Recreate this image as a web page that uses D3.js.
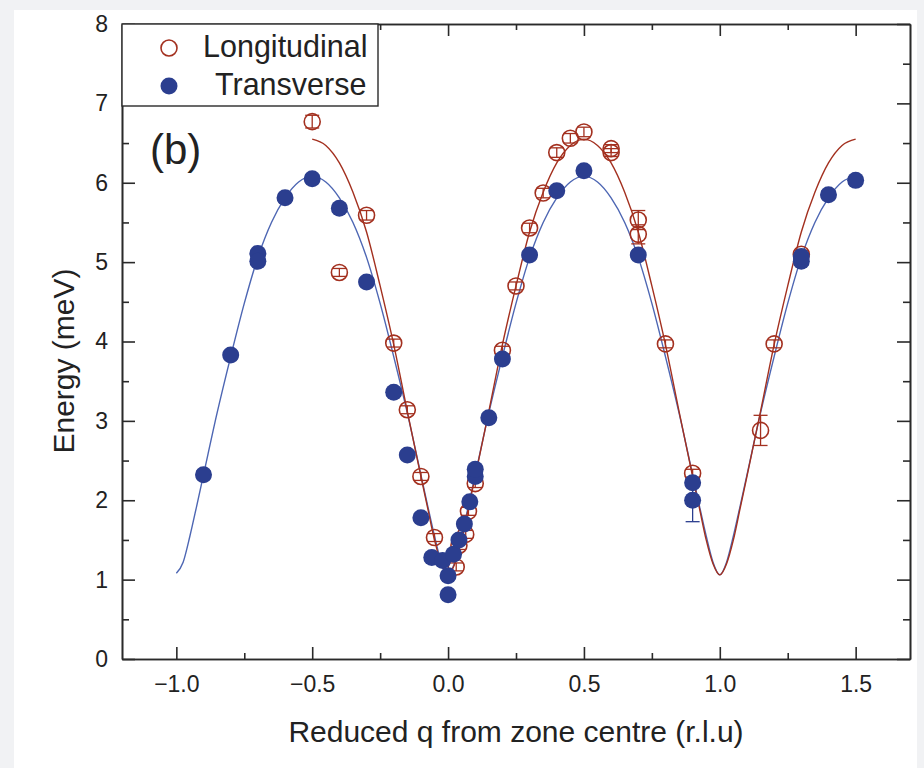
<!DOCTYPE html>
<html>
<head>
<meta charset="utf-8">
<script src="https://cdn.jsdelivr.net/npm/d3@7"></script>
<style>
  body { margin: 0; background: #f1f2f4; }
  svg { display: block; }
  text { font-family: "Liberation Sans", Arial, sans-serif; fill: #222; }
</style>
</head>
<body>
<svg id="chart" width="924" height="768"></svg>
<script>
// measured points, longitudinal (red open circles)
var longQ   = [-0.5, -0.4, -0.3, -0.2, -0.15, -0.1, -0.05, 0.03, 0.04, 0.065, 0.075, 0.1, 0.2, 0.25, 0.3, 0.35, 0.4, 0.45, 0.5, 0.6, 0.6, 0.7, 0.7, 0.8, 0.9, 1.15, 1.2, 1.3];
var longE   = [6.77, 4.87, 5.59, 3.98, 3.14, 2.30, 1.53, 1.16, 1.43, 1.57, 1.86, 2.21, 3.89, 4.70, 5.43, 5.87, 6.38, 6.56, 6.64, 6.38, 6.43, 5.53, 5.35, 3.97, 2.34, 2.88, 3.97, 5.10];
var longErr = [0.08, 0.05, 0.06, 0.05, 0.05, 0.05, 0.05, 0.05, 0.05, 0.05, 0.05, 0.05, 0.05, 0.05, 0.06, 0.06, 0.06, 0.06, 0.06, 0.05, 0.05, 0.12, 0.12, 0.05, 0.05, 0.19, 0.05, 0.05];

// measured points, transverse (blue filled circles)
var transQ   = [-0.9, -0.8, -0.7, -0.7, -0.6, -0.5, -0.4, -0.3, -0.2, -0.15, -0.1, -0.06, -0.02, 0.0, 0.0, 0.02, 0.04, 0.06, 0.08, 0.1, 0.1, 0.15, 0.2, 0.3, 0.4, 0.5, 0.7, 0.9, 0.9, 1.3, 1.3, 1.4, 1.5];
var transE   = [2.32, 3.83, 5.11, 5.01, 5.81, 6.05, 5.68, 4.75, 3.36, 2.57, 1.78, 1.28, 1.24, 1.05, 0.81, 1.32, 1.50, 1.70, 1.98, 2.30, 2.39, 3.04, 3.78, 5.09, 5.90, 6.15, 5.09, 2.22, 2.00, 5.01, 5.07, 5.85, 6.03];
var transErr = [0.05, 0.05, 0.05, 0.05, 0.05, 0.05, 0.05, 0.05, 0.05, 0.05, 0.05, 0.05, 0.05, 0.05, 0.05, 0.05, 0.05, 0.05, 0.05, 0.05, 0.05, 0.05, 0.05, 0.05, 0.05, 0.05, 0.05, 0.05, 0.27, 0.05, 0.05, 0.05, 0.05];

// fitted dispersion curves
var fitTQ = [-1.0, -0.975, -0.95, -0.925, -0.9, -0.85, -0.8, -0.75, -0.7, -0.65, -0.6, -0.55, -0.5, -0.45, -0.4, -0.35, -0.3, -0.25, -0.2, -0.15, -0.1, -0.075, -0.05, -0.025,
             0, 0.025, 0.05, 0.075, 0.1, 0.15, 0.2, 0.25, 0.3, 0.35, 0.4, 0.45, 0.5, 0.55, 0.6, 0.65, 0.7, 0.75, 0.8, 0.85, 0.9, 0.925, 0.95, 0.975,
             1.0, 1.025, 1.05, 1.075, 1.1, 1.15, 1.2, 1.25, 1.3, 1.35, 1.4, 1.45, 1.5];
var fitTE = [1.08, 1.22, 1.55, 1.93, 2.32, 3.10, 3.81, 4.48, 5.06, 5.50, 5.81, 6.01, 6.08, 6.01, 5.81, 5.50, 5.06, 4.48, 3.81, 3.10, 2.32, 1.93, 1.55, 1.22,
             1.08, 1.22, 1.55, 1.93, 2.32, 3.10, 3.81, 4.48, 5.06, 5.50, 5.81, 6.01, 6.08, 6.01, 5.81, 5.50, 5.06, 4.48, 3.81, 3.10, 2.32, 1.93, 1.55, 1.22,
             1.06, 1.22, 1.55, 1.93, 2.32, 3.10, 3.81, 4.48, 5.06, 5.50, 5.81, 6.01, 6.08];
var fitLQ = [-0.5, -0.45, -0.4, -0.35, -0.3, -0.25, -0.2, -0.15, -0.1, -0.075, -0.05, -0.025,
             0, 0.025, 0.05, 0.075, 0.1, 0.15, 0.2, 0.25, 0.3, 0.35, 0.4, 0.45, 0.5, 0.55, 0.6, 0.65, 0.7, 0.75, 0.8, 0.85, 0.9, 0.925, 0.95, 0.975,
             1.0, 1.025, 1.05, 1.075, 1.1, 1.15, 1.2, 1.25, 1.3, 1.35, 1.4, 1.45, 1.5];
var fitLE = [6.55, 6.47, 6.25, 5.88, 5.38, 4.70, 3.96, 3.12, 2.30, 1.90, 1.50, 1.20,
             1.07, 1.20, 1.50, 1.90, 2.30, 3.12, 3.96, 4.70, 5.38, 5.88, 6.25, 6.47, 6.55, 6.47, 6.25, 5.88, 5.38, 4.70, 3.96, 3.12, 2.30, 1.90, 1.50, 1.20,
             1.06, 1.20, 1.50, 1.90, 2.30, 3.12, 3.96, 4.70, 5.38, 5.88, 6.25, 6.47, 6.55];

var xTicks = [-1.0, -0.5, 0.0, 0.5, 1.0, 1.5];
var xMinor = [-0.75, -0.25, 0.25, 0.75, 1.25];
var yTicks = [0, 1, 2, 3, 4, 5, 6, 7, 8];
var yMinor = [0.5, 1.5, 2.5, 3.5, 4.5, 5.5, 6.5, 7.5];

var red = "#a3301f";
var blue = "#2b3e8f";
var blueLine = "#4d66b3";
var ink = "#2a2a2a";

var svg = d3.select("#chart");
svg.append("rect").attr("x", 14).attr("y", 10).attr("width", 903).attr("height", 758).attr("fill", "#fff");

var plotL = 122, plotR = 910, plotT = 24, plotB = 659;
var x = d3.scaleLinear().domain([-1.2, 1.7]).range([plotL, plotR]);
var y = d3.scaleLinear().domain([0, 8]).range([plotB, plotT]);

function styleAxis(g) {
	g.select(".domain").attr("stroke", ink).attr("stroke-width", 1.6);
	g.selectAll(".tick line").attr("stroke", ink).attr("stroke-width", 1.6);
	g.selectAll(".tick text").style("font-size", "23px").attr("fill", "#222");
}

// bottom axis
var gx = svg.append("g").attr("transform", "translate(0," + plotB + ")")
	.call(d3.axisBottom(x).tickValues(xTicks).tickSize(-12).tickSizeOuter(0).tickPadding(17)
		.tickFormat(d3.format(".1f")));
styleAxis(gx);
var gxm = svg.append("g").attr("transform", "translate(0," + plotB + ")")
	.call(d3.axisBottom(x).tickValues(xMinor).tickSize(-6).tickSizeOuter(0).tickFormat(""));
styleAxis(gxm);

// top axis
var gt = svg.append("g").attr("transform", "translate(0," + plotT + ")")
	.call(d3.axisTop(x).tickValues(xTicks).tickSize(-12).tickSizeOuter(0).tickFormat(""));
styleAxis(gt);
var gtm = svg.append("g").attr("transform", "translate(0," + plotT + ")")
	.call(d3.axisTop(x).tickValues(xMinor).tickSize(-6).tickSizeOuter(0).tickFormat(""));
styleAxis(gtm);

// left axis
var gy = svg.append("g").attr("transform", "translate(" + plotL + ",0)")
	.call(d3.axisLeft(y).tickValues(yTicks).tickSize(-13).tickSizeOuter(0).tickPadding(14)
		.tickFormat(d3.format("d")));
styleAxis(gy);
var gym = svg.append("g").attr("transform", "translate(" + plotL + ",0)")
	.call(d3.axisLeft(y).tickValues(yMinor).tickSize(-7).tickSizeOuter(0).tickFormat(""));
styleAxis(gym);

// right axis
var gr = svg.append("g").attr("transform", "translate(" + plotR + ",0)")
	.call(d3.axisRight(y).tickValues(yTicks).tickSize(-13).tickSizeOuter(0).tickFormat(""));
styleAxis(gr);
var grm = svg.append("g").attr("transform", "translate(" + plotR + ",0)")
	.call(d3.axisRight(y).tickValues(yMinor).tickSize(-7).tickSizeOuter(0).tickFormat(""));
styleAxis(grm);

// axis titles
svg.append("text")
	.attr("x", (x(-1.0) + x(1.5)) / 2).attr("y", 742)
	.attr("text-anchor", "middle")
	.style("font-size", "30px")
	.text("Reduced q from zone centre (r.l.u)");
svg.append("text")
	.attr("transform", "translate(74,361) rotate(-90)")
	.attr("text-anchor", "middle")
	.style("font-size", "30px")
	.text("Energy (meV)");

// fit curves
var line = d3.line()
	.x(function(d) { return x(d[0]); })
	.y(function(d) { return y(d[1]); })
	.curve(d3.curveMonotoneX);

svg.append("path")
	.datum(d3.zip(fitTQ, fitTE))
	.attr("d", line)
	.attr("fill", "none")
	.attr("stroke", blueLine)
	.attr("stroke-width", 1.4);
svg.append("path")
	.datum(d3.zip(fitLQ, fitLE))
	.attr("d", line)
	.attr("fill", "none")
	.attr("stroke", red)
	.attr("stroke-width", 1.4);

// error bars + markers
function errorBars(data, color) {
	var g = svg.append("g").attr("stroke", color).attr("stroke-width", 1.3);
	g.selectAll("line.v").data(data).enter().append("line")
		.attr("x1", function(d) { return x(d[0]); })
		.attr("x2", function(d) { return x(d[0]); })
		.attr("y1", function(d) { return y(d[1] - d[2]); })
		.attr("y2", function(d) { return y(d[1] + d[2]); });
	g.selectAll("line.lo").data(data).enter().append("line")
		.attr("x1", function(d) { return x(d[0]) - 7; })
		.attr("x2", function(d) { return x(d[0]) + 7; })
		.attr("y1", function(d) { return y(d[1] - d[2]); })
		.attr("y2", function(d) { return y(d[1] - d[2]); });
	g.selectAll("line.hi").data(data).enter().append("line")
		.attr("x1", function(d) { return x(d[0]) - 7; })
		.attr("x2", function(d) { return x(d[0]) + 7; })
		.attr("y1", function(d) { return y(d[1] + d[2]); })
		.attr("y2", function(d) { return y(d[1] + d[2]); });
}

var longData = d3.zip(longQ, longE, longErr);
var transData = d3.zip(transQ, transE, transErr);

errorBars(longData, red);
svg.append("g").selectAll("circle").data(longData).enter().append("circle")
	.attr("cx", function(d) { return x(d[0]); })
	.attr("cy", function(d) { return y(d[1]); })
	.attr("r", 8)
	.attr("fill", "none")
	.attr("stroke", red)
	.attr("stroke-width", 1.6);

errorBars(transData, blue);
svg.append("g").selectAll("circle").data(transData).enter().append("circle")
	.attr("cx", function(d) { return x(d[0]); })
	.attr("cy", function(d) { return y(d[1]); })
	.attr("r", 8.5)
	.attr("fill", blue);

// legend
var leg = svg.append("g");
leg.append("rect").attr("x", plotL).attr("y", plotT).attr("width", 256).attr("height", 82)
	.attr("fill", "#fff").attr("stroke", ink).attr("stroke-width", 1.4);
leg.append("circle").attr("cx", 169).attr("cy", 48).attr("r", 8)
	.attr("fill", "none").attr("stroke", red).attr("stroke-width", 1.6);
leg.append("circle").attr("cx", 169).attr("cy", 86).attr("r", 8.5).attr("fill", blue);
leg.append("text").attr("x", 203).attr("y", 57).style("font-size", "30.5px").text("Longitudinal");
leg.append("text").attr("x", 215).attr("y", 95).style("font-size", "30.5px").text("Transverse");

// panel label
svg.append("text").attr("x", 150).attr("y", 164).style("font-size", "42px").text("(b)");
</script>
</body>
</html>
